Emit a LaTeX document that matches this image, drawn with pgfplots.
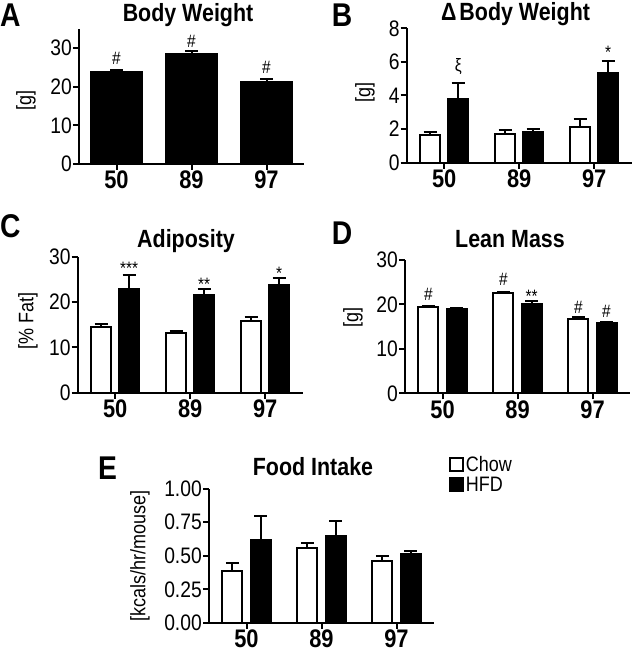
\documentclass[border=0pt]{standalone}
\usepackage{fontspec}
\setmainfont{Liberation Sans}[FakeStretch=0.86]
\usepackage{pgfplots}
\pgfplotsset{compat=1.18}

\pgfplotsset{
 panel/.style={
  scale only axis, width=225bp,
  xmin=-0.5, xmax=2.5, ymin=0,
  axis x line*=bottom, axis y line*=left,
  axis line style={-, line width=2.2bp},
  xtick={0,1,2}, xticklabels={50,89,97},
  tick align=outside, major tick length=6bp,
  every tick/.style={black, line width=2bp},
  /pgf/number format/assume math mode=true,
  yticklabel style={font=\fontsize{22.5}{22.5}\selectfont, inner sep=1bp},
  xticklabel style={font=\bfseries\fontsize{25.5}{25.5}\selectfont, inner sep=0bp, yshift=-1bp},
  ylabel style={font=\fontsize{21}{21}\selectfont, rotate=0, anchor=center},
  ybar, bar width=0.267,
  clip=false,
  error bars/y dir=plus, error bars/y explicit,
  error bars/error bar style={line width=2bp, black},
  error bars/error mark options={rotate=90, mark size=6.5bp, line width=2bp, black},
 },
 chow/.style={fill=white, draw=black, line width=2bp, bar shift=-0.187},
 hfd/.style={fill=black, draw=black, line width=2bp, bar shift=0.187},
}
\tikzset{ann/.style={font=\fontsize{18}{18}\selectfont, inner sep=0pt}}

\begin{document}
\begin{tikzpicture}
\useasboundingbox (0,0) rectangle (633bp,655bp);

% ---------------- A
\begin{axis}[panel, at={(79bp,491bp)}, anchor=south west, height=135.4bp,
  ymax=35, ytick={0,10,20,30}, ylabel={[g]},
  ylabel style={at={(rel axis cs:-0.236,0.47)}}]
\addplot+[fill=black, draw=black, line width=2bp, bar width=0.667, bar shift=0] coordinates {
 (0,23.9) +- (0,0.5)
 (1,28.5) +- (0,0.6)
 (2,21.3) +- (0,0.6)};
\node[ann] at (axis cs:0,27.4) {\#};
\node[ann] at (axis cs:1,31.7) {\#};
\node[ann] at (axis cs:2,25.0) {\#};
\end{axis}

% ---------------- B
\begin{axis}[panel, at={(406.7bp,492.3bp)}, anchor=south west, height=134.4bp,
  ymax=8, ytick={0,2,4,6,8}, ylabel={[g]},
  ylabel style={at={(rel axis cs:-0.185,0.52)}}]
\addplot+[chow] coordinates {
 (0,1.65) +- (0,0.2)
 (1,1.69) +- (0,0.26)
 (2,2.12) +- (0,0.46)};
\addplot+[hfd] coordinates {
 (0,3.77) +- (0,0.95)
 (1,1.85) +- (0,0.15)
 (2,5.34) +- (0,0.71)};
\node[ann] at (axis cs:0.187,5.7) {ξ};
\node[ann, yshift=-3.5bp] at (axis cs:2.187,6.8) {*};
\end{axis}

% ---------------- C
\begin{axis}[panel, at={(77.7bp,262.3bp)}, anchor=south west, height=136bp,
  ymax=30, ytick={0,10,20,30}, ylabel={[\% Fat]},
  ylabel style={at={(rel axis cs:-0.221,0.53)}}]
\addplot+[chow] coordinates {
 (0,14.4) +- (0,0.8)
 (1,13.1) +- (0,0.4)
 (2,15.9) +- (0,0.9)};
\addplot+[hfd] coordinates {
 (0,22.9) +- (0,3.1)
 (1,21.5) +- (0,1.4)
 (2,23.8) +- (0,1.6)};
\node[ann, yshift=-3.5bp] at (axis cs:0.187,28.2) {***};
\node[ann, yshift=-3.5bp] at (axis cs:1.187,24.7) {**};
\node[ann, yshift=-3.5bp] at (axis cs:2.187,27.1) {*};
\end{axis}

% ---------------- D
\begin{axis}[panel, at={(405bp,261.7bp)}, anchor=south west, height=133.3bp,
  ymax=30, ytick={0,10,20,30}, ylabel={[g]},
  ylabel style={at={(rel axis cs:-0.231,0.57)}}]
\addplot+[chow] coordinates {
 (0,19.35) +- (0,0.25)
 (1,22.6) +- (0,0.2)
 (2,16.8) +- (0,0.3)};
\addplot+[hfd] coordinates {
 (0,19.05) +- (0,0.25)
 (1,20.0) +- (0,0.7)
 (2,15.75) +- (0,0.35)};
\node[ann] at (axis cs:-0.187,22.2) {\#};
\node[ann] at (axis cs:0.813,25.6) {\#};
\node[ann, yshift=-3.5bp] at (axis cs:1.187,22.5) {**};
\node[ann] at (axis cs:1.813,19.4) {\#};
\node[ann] at (axis cs:2.187,18.5) {\#};
\end{axis}

% ---------------- E
\begin{axis}[panel, at={(209bp,32bp)}, anchor=south west, height=134.3bp,
  ymax=1, ytick={0,0.25,0.5,0.75,1},
  yticklabel style={/pgf/number format/.cd, fixed, fixed zerofill, precision=2},
  ylabel={[kcals/hr/mouse]},
  ylabel style={at={(rel axis cs:-0.307,0.5)}},
  legend style={at={(rel axis cs:1.067,1.26)}, anchor=north west, draw=none, fill=none,
    font=\fontsize{21}{21}\selectfont, inner sep=0pt, row sep=0bp,
    cells={anchor=west}},
  legend image code/.code={\draw[#1, /tikz/.cd, line width=1.6bp] (0bp,-6.5bp) rectangle (13bp,6.5bp);},
  ]
\addplot+[chow] coordinates {
 (0,0.39) +- (0,0.06)
 (1,0.558) +- (0,0.035)
 (2,0.464) +- (0,0.036)};
\addplot+[hfd] coordinates {
 (0,0.618) +- (0,0.177)
 (1,0.645) +- (0,0.117)
 (2,0.516) +- (0,0.018)};
\legend{Chow,HFD}
\end{axis}

% ---------------- titles and panel letters
\begin{scope}[every node/.style={font=\bfseries\fontsize{25}{25}\selectfont, anchor=base, inner sep=0pt}]
\node at (188bp,633.3bp) {Body Weight};
\node at (515.5bp,634.3bp) {Δ\hspace{3bp}Body Weight};
\node at (186bp,407.7bp) {Adiposity};
\node at (510bp,407.3bp) {Lean Mass};
\node at (313bp,179.3bp) {Food Intake};
\end{scope}
\begin{scope}[every node/.style={font=\bfseries\fontsize{33}{33}\selectfont, anchor=base west, inner sep=0pt}]
\node at (0bp,628.3bp) {A};
\node at (331.7bp,628.3bp) {B};
\node at (0bp,417.5bp) {C};
\node at (331.7bp,410bp) {D};
\node at (98bp,175bp) {E};
\end{scope}
\end{tikzpicture}
\end{document}
